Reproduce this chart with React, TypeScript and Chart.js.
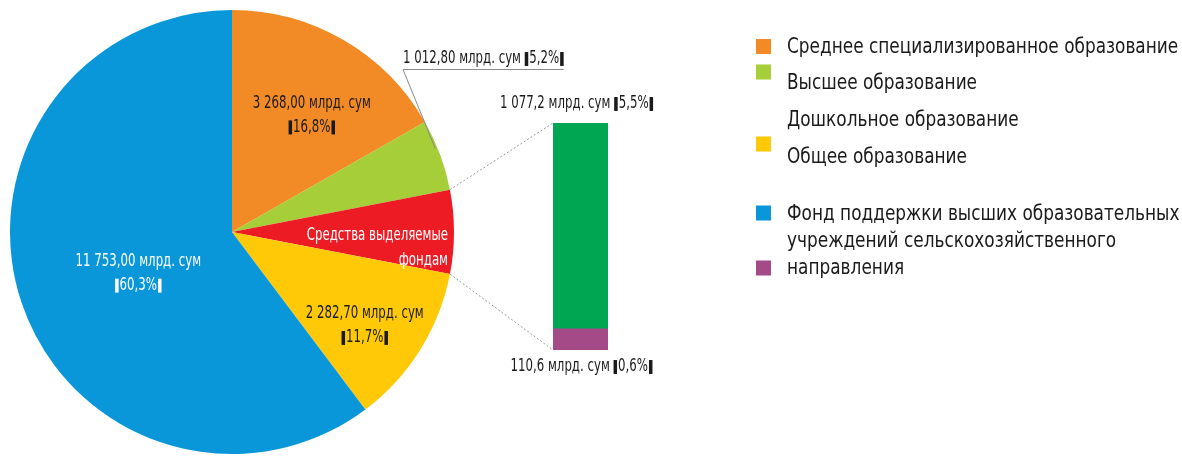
import React, { useEffect, useRef } from 'react';
import { Chart, registerables } from 'chart.js';

Chart.register(...registerables);

// ---------- data ----------
const pieCategories = [
  'Среднее специализированное образование',
  'Высшее образование',
  'Средства выделяемые фондам',
  'Общее образование',
  'Дошкольное образование',
];
const pieValues = [3268.0, 1012.8, 1187.8, 2282.7, 11753.0];
const pieValueLabels = ['3 268,00 млрд. сум', '1 012,80 млрд. сум', '', '2 282,70 млрд. сум', '11 753,00 млрд. сум'];
const piePercentLabels = ['16,8%', '5,2%', '', '11,7%', '60,3%'];
const redSliceLines = ['Средства выделяемые', 'фондам'];

const barCategories = ['Средства выделяемые фондам'];
const barBottomValues = [110.6];
const barTopValues = [1077.2];
const barValueLabels = ['110,6 млрд. сум', '1 077,2 млрд. сум'];
const barPercentLabels = ['0,6%', '5,5%'];

const legendLines = [
  'Среднее специализированное образование',
  'Высшее образование',
  'Дошкольное образование',
  'Общее образование',
  'Фонд поддержки высших образовательных',
  'учреждений сельскохозяйственного',
  'направления',
];

// ---------- styles ----------
const COLORS = {
  orange: '#F28A26',
  green: '#A6CE39',
  red: '#ED1C24',
  yellow: '#FFC907',
  blue: '#0A97DA',
  barGreen: '#00A651',
  purple: '#A34A87',
};
const pieColors = [COLORS.orange, COLORS.green, COLORS.red, COLORS.yellow, COLORS.blue];
const FONT = "'DejaVu Sans Condensed', 'Liberation Sans Narrow', 'DejaVu Sans', sans-serif";
const W = 1182;
const H = 457;
const LABEL_SIZE = 17;
const LABEL_SX = 0.77;
const LEGEND_SIZE = 22;
const LEGEND_SX = 0.855;
const DARK = '#1a1a1a';

function txt(ctx: CanvasRenderingContext2D, s: string, x: number, y: number, align: CanvasTextAlign, sx: number) {
  ctx.save();
  ctx.translate(x, y);
  ctx.scale(sx, 1);
  ctx.textAlign = align;
  ctx.textBaseline = 'middle';
  ctx.fillText(s, 0, 0);
  ctx.restore();
}

const BAR_W = 3.5;
function pctWidth(ctx: CanvasRenderingContext2D, pct: string, sx: number) {
  return BAR_W * 2 + 2 + ctx.measureText(pct).width * sx;
}
// draws "|pct|" with heavy separator bars; x is the left edge, y the middle
function pctLeft(ctx: CanvasRenderingContext2D, pct: string, x: number, y: number, sx: number, color: string, size: number) {
  const tw = ctx.measureText(pct).width * sx;
  const h = size * 0.82;
  ctx.save();
  ctx.fillStyle = color;
  ctx.fillRect(x, y - h / 2, BAR_W, h);
  txt(ctx, pct, x + BAR_W + 1, y, 'left', sx);
  ctx.fillRect(x + BAR_W + 1 + tw + 1, y - h / 2, BAR_W, h);
  ctx.restore();
}

export default function App() {
  const pieRef = useRef<HTMLCanvasElement>(null);
  const barRef = useRef<HTMLCanvasElement>(null);

  useEffect(() => {
    const pieLabelsPlugin = {
      id: 'pieLabels',
      afterDraw(chart: any) {
        const ctx: CanvasRenderingContext2D = chart.ctx;
        const arcs = chart.getDatasetMeta(0).data;
        ctx.font = `${LABEL_SIZE}px ${FONT}`;
        // per-slice label placement (radius fraction, angle offset in deg, text color)
        const place: any = {
          0: { f: 0.64, da: 4, color: DARK },
          3: { f: 0.73, da: 3, color: DARK },
          4: { f: 0.46, da: -5, color: '#ffffff' },
        };
        [0, 3, 4].forEach((i) => {
          const a = arcs[i];
          const p = place[i];
          const mid = (a.startAngle + a.endAngle) / 2 + (p.da * Math.PI) / 180;
          const cx = a.x + Math.cos(mid) * a.outerRadius * p.f;
          const cy = a.y + Math.sin(mid) * a.outerRadius * p.f;
          ctx.fillStyle = p.color;
          txt(ctx, pieValueLabels[i], cx, cy - 11, 'center', LABEL_SX);
          const w = pctWidth(ctx, piePercentLabels[i], LABEL_SX);
          pctLeft(ctx, piePercentLabels[i], cx - w / 2, cy + 13, LABEL_SX, p.color, LABEL_SIZE);
        });
        // red slice text (right aligned inside slice)
        const r = arcs[2];
        const rmid = (r.startAngle + r.endAngle) / 2;
        const rx = r.x + Math.cos(rmid) * r.outerRadius - 6;
        const ry = r.y + Math.sin(rmid) * r.outerRadius;
        ctx.fillStyle = '#ffffff';
        txt(ctx, redSliceLines[0], rx, ry + 4, 'right', LABEL_SX);
        txt(ctx, redSliceLines[1], rx, ry + 29, 'right', LABEL_SX);

        // green slice outside label with leader
        const g = arcs[1];
        const gmid = (g.startAngle + g.endAngle) / 2 - 0.035;
        const gx = g.x + Math.cos(gmid) * g.outerRadius * 0.99;
        const gy = g.y + Math.sin(gmid) * g.outerRadius * 0.99;
        const lx = 403;
        const ly = 69;
        const main = pieValueLabels[1] + ' ';
        const mw = ctx.measureText(main).width * LABEL_SX;
        const tw = mw + pctWidth(ctx, piePercentLabels[1], LABEL_SX);
        ctx.fillStyle = DARK;
        txt(ctx, main, lx, ly - 10, 'left', LABEL_SX);
        pctLeft(ctx, piePercentLabels[1], lx + mw, ly - 10, LABEL_SX, DARK, LABEL_SIZE);
        ctx.save();
        ctx.strokeStyle = '#8a8a8a';
        ctx.lineWidth = 1;
        ctx.beginPath();
        ctx.moveTo(lx + tw, ly + 0.5);
        ctx.lineTo(lx, ly + 0.5);
        ctx.lineTo(gx, gy);
        ctx.stroke();
        ctx.restore();

        // legend
        ctx.font = `${LEGEND_SIZE}px ${FONT}`;
        ctx.fillStyle = DARK;
        const textX = 787;
        const lineY = [47, 83, 120, 157, 214, 241, 268];
        legendLines.forEach((s, i) => txt(ctx, s, textX, lineY[i], 'left', LEGEND_SX));
        const squares = [
          { c: COLORS.orange, y: 46.5 },
          { c: COLORS.green, y: 72 },
          { c: COLORS.yellow, y: 144 },
          { c: COLORS.blue, y: 213 },
          { c: COLORS.purple, y: 268 },
        ];
        squares.forEach((s) => {
          ctx.fillStyle = s.c;
          ctx.fillRect(756, s.y - 7.5, 15, 15);
        });
      },
    };

    const pie = new Chart(pieRef.current!, {
      type: 'pie',
      data: {
        labels: pieCategories,
        datasets: [{ data: pieValues, backgroundColor: pieColors, borderWidth: 0 }],
      },
      options: {
        responsive: false,
        animation: false,
        layout: { padding: { left: 10, top: 10, right: W - 454, bottom: H - 454 } },
        plugins: { legend: { display: false }, tooltip: { enabled: false } },
      },
      plugins: [pieLabelsPlugin],
    });

    const barLabelsPlugin = {
      id: 'barLabels',
      afterDraw(chart: any) {
        const ctx: CanvasRenderingContext2D = chart.ctx;
        const bottom = chart.getDatasetMeta(0).data[0];
        const top = chart.getDatasetMeta(1).data[0];
        const left = top.x - top.width / 2;
        // connector lines from the red slice to the bar
        const red = pie.getDatasetMeta(0).data[2] as any;
        const p1 = { x: red.x + Math.cos(red.startAngle) * red.outerRadius, y: red.y + Math.sin(red.startAngle) * red.outerRadius };
        const p2 = { x: red.x + Math.cos(red.endAngle) * red.outerRadius, y: red.y + Math.sin(red.endAngle) * red.outerRadius };
        ctx.save();
        ctx.strokeStyle = '#9a9a9a';
        ctx.lineWidth = 1;
        ctx.setLineDash([2, 2]);
        ctx.beginPath();
        ctx.moveTo(p1.x, p1.y);
        ctx.lineTo(left, top.y);
        ctx.moveTo(p2.x, p2.y);
        ctx.lineTo(left, bottom.base);
        ctx.stroke();
        ctx.restore();

        ctx.font = `${LABEL_SIZE}px ${FONT}`;
        const drawLbl = (main: string, pct: string, cx: number, cy: number) => {
          const m = main + ' ';
          const mw = ctx.measureText(m).width * LABEL_SX;
          const w = mw + pctWidth(ctx, pct, LABEL_SX);
          const x0 = cx - w / 2;
          ctx.fillStyle = DARK;
          txt(ctx, m, x0, cy, 'left', LABEL_SX);
          pctLeft(ctx, pct, x0 + mw, cy, LABEL_SX, DARK, LABEL_SIZE);
        };
        drawLbl(barValueLabels[1], barPercentLabels[1], top.x - 4, top.y - 19);
        drawLbl(barValueLabels[0], barPercentLabels[0], top.x + 1, bottom.base + 17);
      },
    };

    const bar = new Chart(barRef.current!, {
      type: 'bar',
      data: {
        labels: barCategories,
        datasets: [
          { label: legendLines[6], data: barBottomValues, backgroundColor: COLORS.purple, barPercentage: 1, categoryPercentage: 1 },
          { label: 'Фонды', data: barTopValues, backgroundColor: COLORS.barGreen, barPercentage: 1, categoryPercentage: 1 },
        ],
      },
      options: {
        responsive: false,
        animation: false,
        layout: { padding: { left: 553, right: W - 608, top: 123, bottom: H - 350 } },
        scales: {
          x: { stacked: true, display: false },
          y: { stacked: true, display: false, min: 0, max: barBottomValues[0] + barTopValues[0] },
        },
        plugins: { legend: { display: false }, tooltip: { enabled: false } },
      },
      plugins: [barLabelsPlugin],
    });

    return () => {
      bar.destroy();
      pie.destroy();
    };
  }, []);

  return (
    <div style={{ position: 'absolute', left: 0, top: 0, width: W, height: H, background: '#ffffff' }}>
      <canvas ref={pieRef} width={W} height={H} style={{ position: 'absolute', left: 0, top: 0 }} />
      <canvas ref={barRef} width={W} height={H} style={{ position: 'absolute', left: 0, top: 0 }} />
    </div>
  );
}
